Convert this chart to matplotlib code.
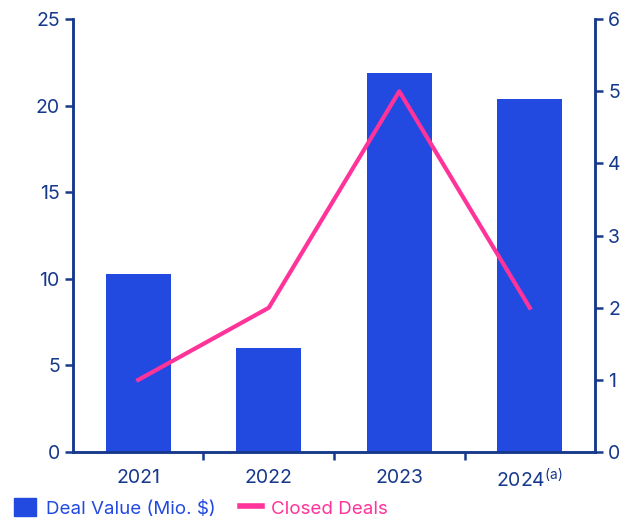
import matplotlib.pyplot as plt
import numpy as np
from matplotlib.patches import Patch
from matplotlib.lines import Line2D

plt.rcParams['font.family'] = ['Inter', 'DejaVu Sans']

years = ['2021', '2022', '2023', '2024$^{\\mathregular{(a)}}$']
deal_value = [10.3, 6.0, 21.9, 20.4]
closed_deals = [1, 2, 5, 2]

BAR = '#2249e0'
AX = '#17398c'
PINK = '#ff3399'

fig = plt.figure(figsize=(6.27, 5.19), dpi=100)
ax = fig.add_axes([0.1164, 0.129, 0.8326, 0.834])
x = np.arange(len(years))
ax.bar(x, deal_value, width=0.5, color=BAR, zorder=2)
ax.set_xlim(-0.5, 3.5)
ax.set_ylim(0, 25)
ax.set_yticks([0, 5, 10, 15, 20, 25])

ax2 = ax.twinx()
ax2.plot(x, closed_deals, color=PINK, lw=3, zorder=3)
ax2.set_ylim(0, 6)
ax2.set_yticks(range(7))

for a in (ax, ax2):
    a.spines['top'].set_visible(False)
    for s in ['left', 'right', 'bottom']:
        a.spines[s].set_color(AX)
        a.spines[s].set_linewidth(1.8)
    a.tick_params(axis='y', colors=AX, labelsize=14, width=1.8, length=6, labelcolor=AX)

ax.set_xticks(x)
ax.set_xticklabels(years)
ax.set_xticks([0.5, 1.5, 2.5], minor=True)
ax.tick_params(axis='x', which='major', length=0, labelsize=14, labelcolor=AX, pad=12)
ax.tick_params(axis='x', which='minor', length=6, width=1.8, color=AX)

handles = [Patch(color=BAR, label='Deal Value (Mio. $)'),
           Line2D([], [], color=PINK, lw=4, label='Closed Deals')]
leg = fig.legend(handles=handles, loc='lower left', bbox_to_anchor=(-0.005, -0.03), ncol=2,
                 frameon=False, fontsize=13.5, handlelength=1.2, handleheight=1.1,
                 columnspacing=1.3, handletextpad=0.5)
for t, c in zip(leg.get_texts(), [BAR, PINK]):
    t.set_color(c)

fig.savefig('out.png', dpi=100)
